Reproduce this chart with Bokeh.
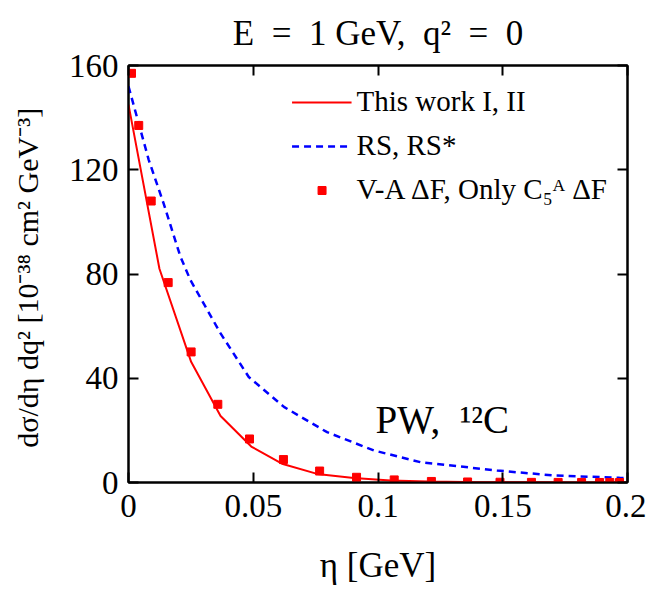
from bokeh.plotting import figure
from bokeh.models import Legend, LegendItem, Label, LinearAxis, FixedTicker, Range1d
from bokeh.embed import file_html
from bokeh.resources import INLINE

# ---- data ----
eta_work = [0.0, 0.0124, 0.0251, 0.0369, 0.0492, 0.0615, 0.0756, 0.0903, 0.105, 0.12, 0.135, 0.15, 0.165, 0.18, 0.2]
sig_work = [145, 82, 46.3, 25.5, 13.8, 7.2, 3.3, 1.7, 0.8, 0.4, 0.2, 0.1, 0.05, 0.02, 0.01]

eta_rs = [0.0, 0.0081, 0.0141, 0.0208, 0.0248, 0.0369, 0.0482, 0.0623, 0.0796, 0.0983, 0.117, 0.1477, 0.1705, 0.1968, 0.2]
sig_rs = [152, 123.8, 107, 86.7, 77.7, 57.2, 40.5, 29, 19.3, 12.3, 7.8, 4.6, 2.7, 1.8, 1.7]

eta_va = [0.0012, 0.0041, 0.0091, 0.0159, 0.0251, 0.0358, 0.0485, 0.0621, 0.0766, 0.0914,
          0.1065, 0.1214, 0.1359, 0.1489, 0.1615, 0.1722, 0.1816, 0.1888, 0.1929, 0.1968]
sig_va = [157, 137, 108, 76.7, 50.1, 30, 16.7, 8.8, 4.4, 2.0,
          1.0, 0.4, 0.2, 0.1, 0.05, 0.03, 0.02, 0.01, 0.01, 0.0]

x_ticks = [0, 0.05, 0.1, 0.15, 0.2]
x_tick_labels = ["0", "0.05", "0.1", "0.15", "0.2"]
y_ticks = [0, 40, 80, 120, 160]

labels = ["This work I, II", "RS, RS*", "V-A ΔF, Only C₅ᴬ ΔF"]

FONT = "serif"
NB = "\u00a0"

p = figure(width=646, height=594, x_range=Range1d(0, 0.2), y_range=Range1d(0, 160),
           output_backend="svg", toolbar_location=None,
           min_border_left=128, min_border_right=19, min_border_top=65, min_border_bottom=112)

p.title.text = f"E{NB}{NB}={NB}{NB}1 GeV,{NB}{NB}q²{NB}{NB}={NB}{NB}0"
p.title.align = "center"
p.title.vertical_align = "top"
p.title.text_font = FONT
p.title.text_font_size = "35px"
p.title.text_font_style = "normal"
p.title.text_color = "black"
p.title.standoff = 22

p.xgrid.visible = False
p.ygrid.visible = False
p.outline_line_color = "black"
p.outline_line_width = 2

def style_axis(ax, ticks, show_labels):
    ax.ticker = FixedTicker(ticks=ticks)
    ax.minor_tick_line_color = None
    ax.major_tick_in = 10
    ax.major_tick_out = 0
    ax.major_tick_line_width = 2
    ax.major_tick_line_color = "black"
    ax.axis_line_color = "black"
    ax.axis_line_width = 2
    ax.major_label_text_font = FONT
    ax.major_label_text_color = "black"
    ax.major_label_text_font_size = "33px"
    if not show_labels:
        ax.major_label_overrides = {t: "" for t in ticks}
        ax.major_label_standoff = 0

style_axis(p.xaxis[0], x_ticks, True)
style_axis(p.yaxis[0], y_ticks, True)
p.xaxis[0].major_label_overrides = {t: l for t, l in zip(x_ticks, x_tick_labels)}
p.xaxis[0].major_label_standoff = 12
p.yaxis[0].major_label_standoff = 10

p.xaxis.axis_label = "η [GeV]"
p.xaxis.axis_label_text_font = FONT
p.xaxis.axis_label_text_font_size = "35px"
p.xaxis.axis_label_text_font_style = "normal"
p.xaxis.axis_label_text_color = "black"
p.xaxis.axis_label_standoff = 26

p.yaxis.axis_label = "dσ/dη dq²  [10⁻³⁸ cm² GeV⁻³]"
p.yaxis.axis_label_text_font = FONT
p.yaxis.axis_label_text_font_size = "30px"
p.yaxis.axis_label_text_font_style = "normal"
p.yaxis.axis_label_text_color = "black"
p.yaxis.axis_label_standoff = 22

top_ax = LinearAxis()
style_axis(top_ax, x_ticks, False)
p.add_layout(top_ax, "above")
right_ax = LinearAxis()
style_axis(right_ax, y_ticks, False)
p.add_layout(right_ax, "right")

r1 = p.line(eta_work, sig_work, line_color="#ff0000", line_width=2)
r2 = p.line(eta_rs, sig_rs, line_color="#0000ff", line_width=2.5, line_dash="7 5")
r3 = p.scatter(eta_va, sig_va, marker="square", size=8, fill_color="#ff0000", line_color="#ff0000")

legend = Legend(items=[LegendItem(label=labels[0], renderers=[r1]),
                       LegendItem(label=labels[1], renderers=[r2]),
                       LegendItem(label=labels[2], renderers=[r3])],
                location="top_right")
legend.label_text_font = FONT
legend.label_text_font_size = "29px"
legend.label_text_color = "black"
legend.border_line_alpha = 0
legend.background_fill_alpha = 0
legend.glyph_width = 60
legend.spacing = 11
legend.margin = 14
legend.padding = 6
p.add_layout(legend)

p.add_layout(Label(x=0.099, y=24, text=f"PW,{NB}{NB}¹²C", text_font=FONT, text_font_size="39px",
                   text_baseline="alphabetic", text_color="black"))

open("out.html", "w").write(file_html(p, INLINE))
